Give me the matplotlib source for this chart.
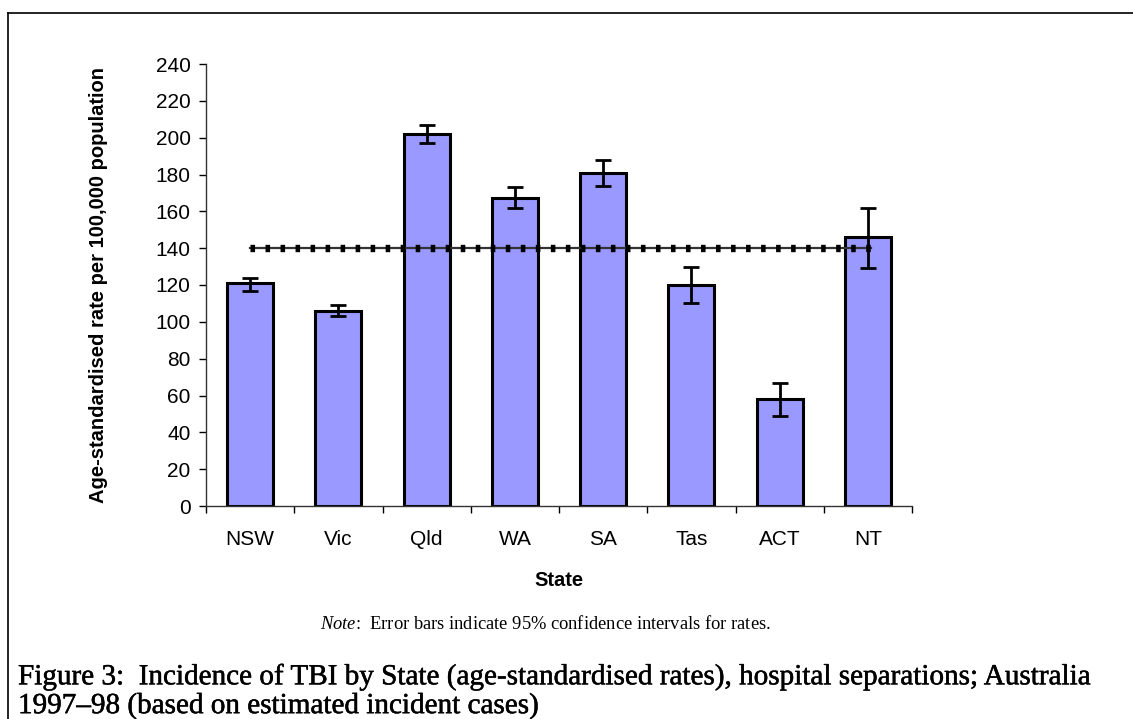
import numpy as np
import matplotlib.pyplot as plt
import matplotlib.patheffects as pe

states = ['NSW', 'Vic', 'Qld', 'WA', 'SA', 'Tas', 'ACT', 'NT']
rates = [121, 106, 202, 167, 181, 120, 58, 146]
ci_low = [117, 103, 197, 162, 174, 110, 49, 129]
ci_high = [124, 109, 207, 173, 188, 130, 67, 162]
australia_rate = 140

sans = ['Liberation Sans', 'DejaVu Sans']
serif = ['Liberation Serif', 'DejaVu Serif']
plt.rcParams['mathtext.fontset'] = 'custom'
plt.rcParams['mathtext.it'] = 'Liberation Serif:italic'
plt.rcParams['mathtext.rm'] = 'Liberation Serif'

fig = plt.figure(figsize=(11.33, 7.19), dpi=100)
ax = fig.add_axes([206/1133, 1-506/719, (912-206)/1133, (506-64)/719])

x = np.arange(len(states))
rates = np.array(rates)
err = [rates - np.array(ci_low), np.array(ci_high) - rates]
ax.bar(x, rates, width=0.52, color='#9999ff', edgecolor='black', linewidth=2.2, zorder=2)
ax.errorbar(x, rates, yerr=err, fmt='none', ecolor='black', elinewidth=2.0,
            capsize=6, capthick=2.0, zorder=3)

# Australian average line
ax.plot([x[0], x[-1] + 0.03], [australia_rate]*2, color='#333333', lw=1.6, zorder=4)
ax.plot([x[0], x[-1] + 0.03], [australia_rate]*2, color='black', lw=5.3,
        linestyle=(0, (0.62, 1.42)), dash_capstyle='butt', zorder=4)

ax.set_xlim(-0.5, 7.5)
ax.set_ylim(0, 240)
ax.set_yticks(range(0, 241, 20))
ax.set_xticks(x)
ax.set_xticklabels(states)
ax.set_xticks(np.arange(-0.5, 8, 1), minor=True)
ax.tick_params(axis='x', which='major', length=0, pad=17)
ax.tick_params(axis='x', which='minor', length=5, width=1, direction='out')
ax.tick_params(axis='y', length=5, width=1, direction='out', pad=6)
for lab in ax.get_xticklabels() + ax.get_yticklabels():
    lab.set_family(sans)
    lab.set_fontsize(15)
for s in ['top', 'right']:
    ax.spines[s].set_visible(False)
for s in ['left', 'bottom']:
    ax.spines[s].set_linewidth(1)
    ax.spines[s].set_color('#333333')

ax.set_ylabel('Age-standardised rate per 100,000 population', family=sans,
              fontsize=14.5, fontweight='bold', labelpad=34)
ax.set_xlabel('State', family=sans, fontsize=14.5, fontweight='bold', labelpad=16)

fig.text(546/1133, 1-624/719, r'$\it{Note}$:  Error bars indicate 95% confidence intervals for rates.',
         family=serif, fontsize=13.3, ha='center', va='center')
heavy = [pe.withStroke(linewidth=0.35, foreground='black')]
fig.text(18/1133, 1-677/719, 'Figure 3:  Incidence of TBI by State (age-standardised rates), hospital separations; Australia',
         family=serif, fontsize=21, ha='left', va='center', path_effects=heavy)
fig.text(18/1133, 1-706/719, '1997\u201398 (based on estimated incident cases)',
         family=serif, fontsize=21, ha='left', va='center', path_effects=heavy)

# page frame
fig.add_artist(plt.Line2D([8/1133, 1], [1-13/719]*2, color='black', lw=1.2))
fig.add_artist(plt.Line2D([8/1133]*2, [0, 1-13/719], color='black', lw=1.2))

fig.savefig('out.png', dpi=100)
